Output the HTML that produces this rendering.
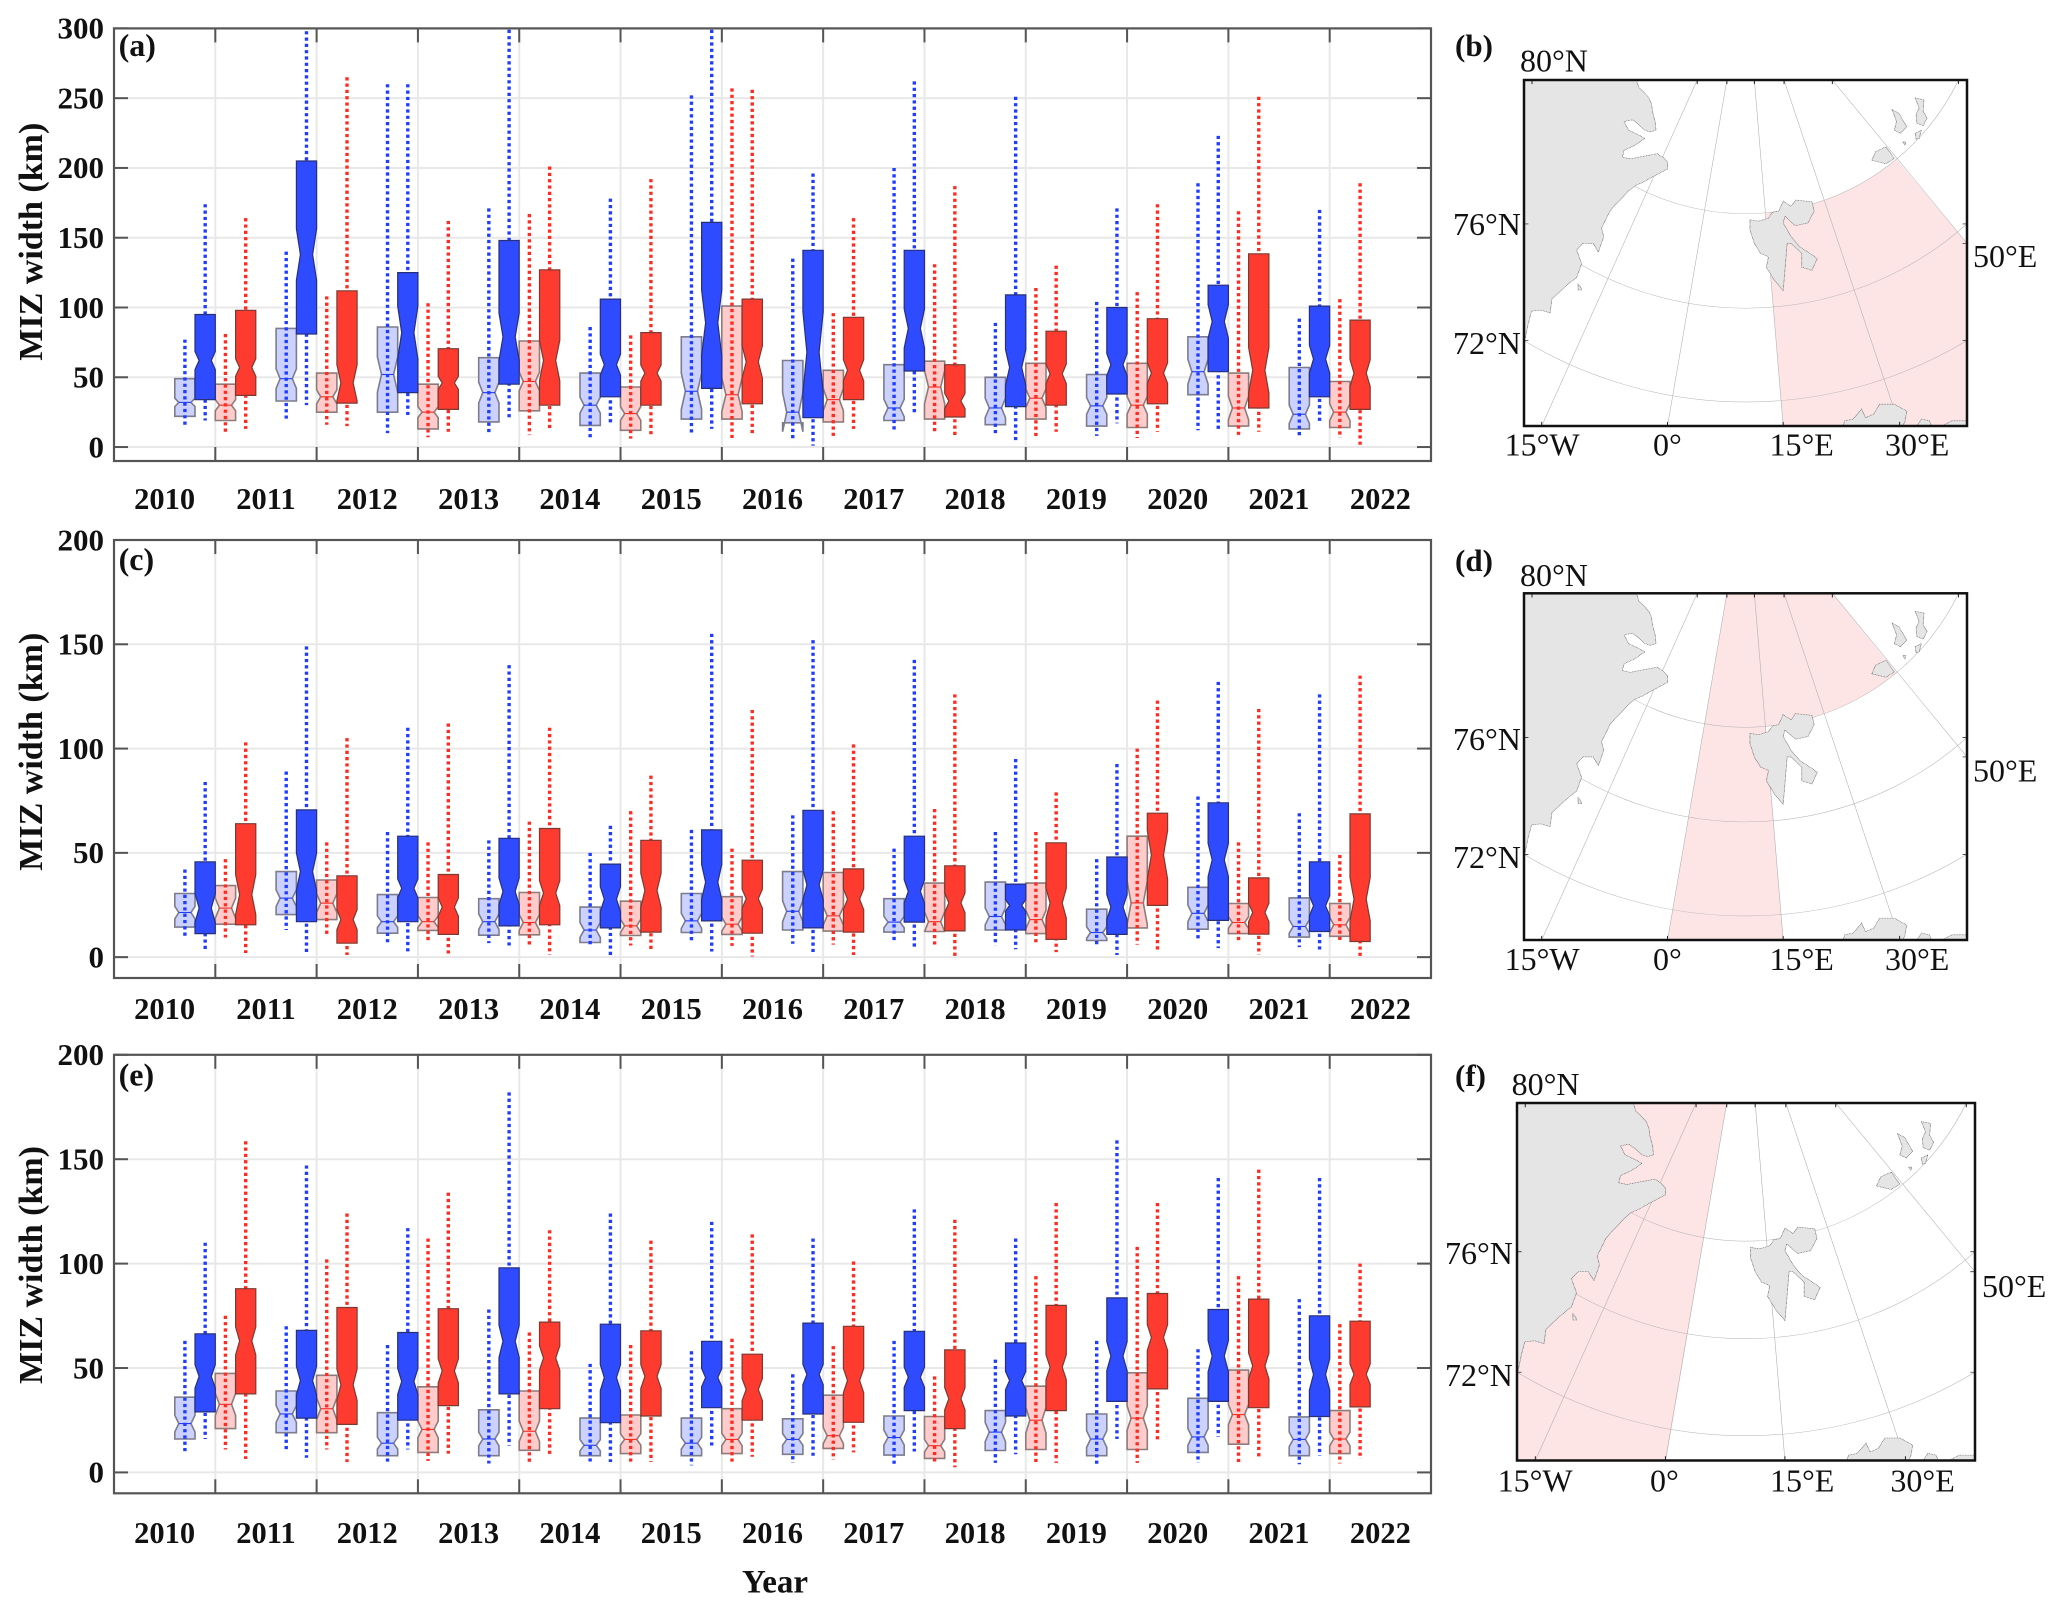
<!DOCTYPE html>
<html lang="en">
<head>
<meta charset="utf-8">
<title>MIZ width box plots and region maps</title>
<style>
html,body{margin:0;padding:0;background:#fff;}
svg{display:block;}
text{font-family:"Liberation Serif","Times New Roman",serif;fill:#111;}
.b{font-weight:bold;}
.maplab{font-size:32px;}
.m path{vector-effect:non-scaling-stroke;}
.grat{fill:none;stroke:#b0b0b0;stroke-width:1.3;}
.land{fill:#e5e5e5;stroke:#444;stroke-width:1.6;stroke-dasharray:1.8 1.8;}
.pink{fill:#fde4e5;stroke:none;}
.mtick{fill:none;stroke:#111;stroke-width:2;}
</style>
</head>
<body>
<svg id="fig" xmlns="http://www.w3.org/2000/svg" width="2067" height="1611" viewBox="0 0 2067 1611">
<rect x="0" y="0" width="2067" height="1611" fill="#fff"/>
<defs>
<g id="map-base">
<path class="grat" d="M18 0A535 685 0 0 0 981 0"/>
<path class="grat" d="M0 416A752 962 0 0 0 1000 416"/>
<path class="grat" d="M0 753A970 1242 0 0 0 1000 753"/>
<path class="grat" d="M40 1000L391 0"/>
<path class="grat" d="M324 1000L458 0"/>
<path class="grat" d="M585 1000L520 0"/>
<path class="grat" d="M848 1000L587 0"/>
<path class="grat" d="M696 0L1000 472"/>
<path class="land" d="M0 0L254 0L259 22L270 35L282 52L288 70L290 91L296 120L298 145L285 150L273 145L258 128L245 115L226 120L232 135L236 145L259 159L273 169L250 189L226 203L222 223L240 228L259 223L280 218L301 213L315 225L324 238L324 257L305 270L287 282L268 296L250 306L235 322L222 340L205 362L194 379L184 405L175 428L180 453L168 497L156 472L133 472L119 492L130 531L119 570L91 599L63 633L59 673L38 665L17 668L9 707L3 746L0 750Z"/>
<path class="land" d="M122 590L128 598L130 607L122 607Z"/>
<path class="land" d="M510 404L530 408L552 399L561 382L575 379L585 350L603 365L613 347L650 352L655 379L641 413L613 421L589 394L585 413L603 453L622 482L645 501L662 516L650 550L627 541L627 501L603 472L594 472L589 550L585 609L566 580L547 541L552 511L534 501L520 472L510 433Z"/>
<path class="land" d="M785 232L794 207L817 193L836 227L817 242Z"/>
<path class="land" d="M831 86L846 96L864 135L850 154L836 145L841 120Z"/>
<path class="land" d="M883 52L903 57L901 91L910 110L901 132L887 125L885 100L892 81Z"/>
<path class="land" d="M883 154L897 145L892 169L885 171Z"/>
<path class="land" d="M855 179L862 179L860 189Z"/>
<path class="land" d="M720 1000L724 985L743 980L762 951L771 976L789 966L803 937L836 937L864 957L860 986L855 1000Z"/>
<path class="land" d="M887 1000L897 980L915 985L920 1000Z"/>
<path class="land" d="M943 1000L966 985L999 985L1000 1000Z"/>
<path class="mtick" d="M18 0V12M391 0V12M458 0V12M520 0V12M587 0V12M696 0V12M981 0V12M40 1000V988M324 1000V988M585 1000V988M848 1000V988M0 416H10M0 753H10M1000 416H990M1000 753H990M1000 472H990"/>
</g>
</defs>

<!-- Map b -->
<svg class="m" x="1524" y="80" width="443" height="346" viewBox="0 0 1000 1000" preserveAspectRatio="none">
<path class="pink" d="M585 1000L546 384A535 685 0 0 0 841 230L1000 472L1000 1000Z"/>
<use href="#map-base"/>
</svg>
<rect x="1524" y="80" width="443" height="346" fill="none" stroke="#111" stroke-width="2.5"/>
<text class="b" x="1455" y="56" font-size="31">(b)</text>
<text class="maplab" x="1520" y="71.7">80°N</text>
<text class="maplab" x="1453" y="235">76°N</text>
<text class="maplab" x="1453" y="354">72°N</text>
<text class="maplab" x="1973" y="267">50°E</text>
<text class="maplab" x="1504.6" y="455.7">15°W</text>
<text class="maplab" x="1653" y="455.7">0°</text>
<text class="maplab" x="1769.5" y="455.7">15°E</text>
<text class="maplab" x="1885" y="455.7">30°E</text>

<!-- Map d -->
<svg class="m" x="1524" y="593.3" width="443" height="346.7" viewBox="0 0 1000 1000" preserveAspectRatio="none">
<path class="pink" d="M324 1000L458 0L696 0L841 230A535 685 0 0 1 546 384L585 1000Z"/>
<use href="#map-base"/>
</svg>
<rect x="1524" y="593.3" width="443" height="346.7" fill="none" stroke="#111" stroke-width="2.5"/>
<text class="b" x="1455" y="571" font-size="31">(d)</text>
<text class="maplab" x="1520" y="586">80°N</text>
<text class="maplab" x="1453" y="750">76°N</text>
<text class="maplab" x="1453" y="868">72°N</text>
<text class="maplab" x="1973" y="781.7">50°E</text>
<text class="maplab" x="1504.6" y="970">15°W</text>
<text class="maplab" x="1653" y="970">0°</text>
<text class="maplab" x="1769.5" y="970">15°E</text>
<text class="maplab" x="1885" y="970">30°E</text>

<!-- Map f -->
<svg class="m" x="1517" y="1103" width="458" height="357.5" viewBox="0 0 1000 1000" preserveAspectRatio="none">
<path class="pink" d="M0 0L458 0L326 1000L0 1000Z"/>
<use href="#map-base"/>
</svg>
<rect x="1517" y="1103" width="458" height="357.5" fill="none" stroke="#111" stroke-width="2.5"/>
<text class="b" x="1455" y="1086" font-size="31">(f)</text>
<text class="maplab" x="1511.6" y="1094.8">80°N</text>
<text class="maplab" x="1445" y="1264">76°N</text>
<text class="maplab" x="1445" y="1386">72°N</text>
<text class="maplab" x="1982" y="1296.8">50°E</text>
<text class="maplab" x="1497.6" y="1491.3">15°W</text>
<text class="maplab" x="1650" y="1491.3">0°</text>
<text class="maplab" x="1770" y="1491.3">15°E</text>
<text class="maplab" x="1890.4" y="1491.3">30°E</text>

<text class="b" x="775" y="1592.4" font-size="33" text-anchor="middle">Year</text>
</svg>

<script>
const years = [2010,2011,2012,2013,2014,2015,2016,2017,2018,2019,2020,2021,2022];
const ticksA = [0,50,100,150,200,250,300];
const ticksC = [0,50,100,150,200];
const ticksE = [0,50,100,150,200];

/* Panel (a) */
const aLbHi  = [77,140,260,171,86,252,135,200,89,104,189,92];
const aLbLo  = [14,19,10,9,7,10,6,11,8,8,12,6.5];
const aLbQ3  = [49,85,86,64,53,79,62,59,50,52,79,57];
const aLbQ1  = [22,33,25,18,15.5,20,17.4,19,16,15,37.5,13];
const aLbMed = [32,49,52,39,30,40,25,28,28,29.5,54,23.5];
const aLbN   = [3,7,12.7,7.5,5.7,13,14,6.3,7,6,9,6.7];
const aBHi   = [174,298,260,299,178,299,196,262,251,171,223,170];
const aBLo   = [19,30,21,20,17,13,1,23,4,17,11,18];
const aBQ3   = [95,205,125,148,106,161,141,141,109,100,116,101];
const aBQ1   = [34,81,39,45,36,42,21,54.5,29,38,54,36];
const aBMed  = [62,138,82,79,59,89,68,85,57,59,90,63];
const aBN    = [6.5,18.5,19,17,7.5,23.6,29,14,13,8,12,10];
const aLrHi  = [81,108,103,167,80,257,96,131,114,111,169,106];
const aLrLo  = [10,16,7,8.5,6,6.5,8,9.4,6.5,6.5,6.5,6.5];
const aLrQ3  = [45,53,45,76,43,101,55,61.5,60,60,53,47];
const aLrQ1  = [19,25,13,26,12,20,18,20,20,14,15,14];
const aLrMed = [30,36,25,47,24,37.5,34,43,35,30,28,25];
const aLrN   = [4,5,4,6.7,5,12,8,12,6.7,6.3,8.5,6];
const aRHi   = [164,265,162,201,192,256,164,187,130,174,251,189];
const aRLo   = [13,15,11,13,8,10,13,6.5,11,11,11,1];
const aRQ3   = [98,112,70.5,127,82,106,93,59,83,92,138.5,91];
const aRQ1   = [37,31.5,27,30,30,31,34,21.5,30,31,28,27];
const aRMed  = [57,46,46,62,53,61,55,33,52.5,53,55,53];
const aRN    = [6.3,13,4.7,14.5,5.8,11.6,7.6,5.5,7,7.3,16.3,9.7];

/* Panel (c) */
const cLbHi  = [42,89,60,56,50,61,68,52,60,47,77,69];
const cLbLo  = [9.4,13,6,6.7,5,7,6.4,7.5,5.6,5,8,4.8];
const cLbQ3  = [30.5,41,30,28,24,30.5,41,28,36,23,33.5,28.4];
const cLbQ1  = [14.4,20.4,11.5,10.5,7,11.8,13,12,13,8,13.4,9.6];
const cLbMed = [21.4,28.3,17,17,13,17.4,22,16.8,19.5,11.8,21,14.7];
const cLbN   = [3,4,2.8,3.8,3.6,3.6,5,2.8,4,2.8,4,3.2];
const cBHi   = [84,149,110,140,63,155,152,142.5,95,92.6,132,126];
const cBLo   = [2.7,1,2,5.6,1,2.7,1.6,4.3,3.8,1,4.3,3];
const cBQ3   = [45.7,70.6,58,57,44.6,61,70.4,58,35,48,74,45.7];
const cBQ1   = [11.3,17,17,15,14,17.4,14,16.8,13,10.9,17.6,12.3];
const cBMed  = [23.5,41,33,31.5,27.8,36,34.7,31.5,24.8,24,46.6,24.6];
const cBN    = [7,9,4.5,6.5,6,8.5,7.2,5.6,2.8,6,8,4.8];
const cLrHi  = [47,55,55,65,70,52,70,71,60,100,55,49];
const cLrLo  = [9.4,11,7.5,6,5.6,5.4,6,6,6,6,8,7];
const cLrQ3  = [34.3,37,28.6,31,26.8,29,40.6,35.5,35.5,58,25.7,25.7];
const cLrQ1  = [15.8,18,12.8,10.7,10.4,10.9,12.5,12.3,11.3,14,11.3,10];
const cLrMed = [23.5,25.9,17,16.6,15,15.8,19.8,17,18,26,16.6,15.5];
const cLrN   = [4.8,4.5,2.8,3.8,3.2,3.4,4.4,4.8,4.4,10.4,2.8,3.6];
const cRHi   = [103,105,112,110,87,118.5,102,126,79,123,119,135];
const cRLo   = [2,1,1,1,3,0.3,1,0.6,2.4,2.7,1,0.6];
const cRQ3   = [64,39,39.6,61.7,56,46.5,42.3,43.8,54.8,69,38,68.7];
const cRQ1   = [15.5,6.7,10.9,15.5,12,11.5,12,12.6,8.5,24.8,11,7.5];
const cRMed  = [30,18,24,30.7,32,28,27.8,26,25.9,49,21.4,27.8];
const cRN    = [9.6,4.8,4.4,6,8.2,4.6,5,4.8,7.2,11.6,4.4,10.4];

/* Panel (e) */
const eLbHi  = [63,70,61,78,52,58,47,63,54,63,59,83];
const eLbLo  = [8.7,10.8,4,4.3,4.3,3.4,4.6,3.7,4.6,3.9,4.6,3.9];
const eLbQ3  = [36,39,28.6,30,26,26,25.7,27,29.6,28,35.5,26.6];
const eLbQ1  = [16,19,8,8,8,8,8.7,8.3,10.5,8,9.6,8];
const eLbMed = [23.4,28,14,16,13,14,15.8,16.7,19.3,16,17,15.8];
const eLbN   = [4,4,2.8,3.3,2.7,2.8,2.8,3.5,4.6,4,4,3.5];
const eBHi   = [110,147,117,182,124,120,112,126,112,159,141,141];
const eBLo   = [16,7,11,12.8,5,12,8,10,8.7,16,17,8];
const eBQ3   = [66.4,68,67,98,71,62.8,71.5,67.6,62,83.6,78,75];
const eBQ1   = [29,26,25,37.6,23.8,31,28,29.6,27,34,34,26.8];
const eBMed  = [46,44,43.6,62.8,45.4,45.4,46.9,45.6,44,55.7,55.7,46.9];
const eBN    = [5.6,6.8,6.2,7.7,6.2,4.4,4.9,4.9,4.4,7,7.5,7.5];
const eLrHi  = [75,102,112,67,61,64,60.5,46,94,108,94,71];
const eLrLo  = [11,11,5.5,4.6,4.3,4.3,6,3.9,5,4.6,4.8,4.3];
const eLrQ3  = [47.4,46.5,41,39,27.5,30.5,37,26.8,41.3,47.7,49,29.6];
const eLrQ1  = [21,19,9.6,10.6,9,9,11.5,6.7,11,11,13.5,9];
const eLrMed = [32.6,30.5,20.6,19.7,15.8,15.8,17.6,12.8,25,26,27.7,16];
const eLrN   = [5.3,5.3,4,4.9,2.7,3,3.9,3,6.2,5.8,4.9,3.3];
const eRHi   = [158.6,124,134,116,111,114,101,121,129,129,145,100];
const eRLo   = [6.4,5,9,7.5,5,7.5,9.6,2.5,4.6,15.8,6.4,6.4];
const eRQ3   = [88,79,78.4,72,67.8,56.6,70,58.7,80,85.7,83,72.4];
const eRQ1   = [37.6,23,32,30.5,27,25,24,21,29.6,40,31,31.4];
const eRMed  = [63,42,48.6,54.8,46,39.7,44,35.3,50.4,64.6,51,47];
const eRN    = [6.7,7.5,5.8,5.8,5.7,5.3,5.8,5.3,6,6.2,6.2,4.9];

const NS = 'http://www.w3.org/2000/svg';
const fig = document.getElementById('fig');
const plotLeft = 114, plotRight = 1431, xMin = 0, xMax = 13;
function xScale(v){ return plotLeft + (v - xMin) / (xMax - xMin) * (plotRight - plotLeft); }
function makeY(top, bottom, yMin, yMax){
  return function(v){ return bottom - (v - yMin) / (yMax - yMin) * (bottom - top); };
}
function mk(tag, attrs, parent){
  const el = document.createElementNS(NS, tag);
  for (const k in attrs) el.setAttribute(k, attrs[k]);
  (parent || fig).appendChild(el);
  return el;
}
function drawBox(g, kind, k, hi, lo, q3, q1, med, n, yS, phase){
  const styles = {
    lb:{off:-0.3, fill:'#ccd2ff', edge:'#7c7c8c', wh:'#1f3cff', light:true},
    b: {off:-0.1, fill:'#2f4bff', edge:'#26307a', wh:'#1f3cff', light:false},
    lr:{off: 0.1, fill:'#ffcccb', edge:'#8c7c7c', wh:'#ff2a20', light:true},
    r: {off: 0.3, fill:'#ff3b30', edge:'#7a3a30', wh:'#ff2a20', light:false}
  };
  const s = styles[kind];
  const cx = xScale(k + s.off);
  const halfW = (xScale(0.1) - xScale(0));
  const ind = halfW * 0.4;
  if (phase === 'whisker'){
    const wh = mk('line', {x1:cx, x2:cx, y1:yS(hi), y2:yS(lo), stroke:s.wh, 'stroke-width':3.4, 'stroke-dasharray':'3.2 3.1'}, g);
    
    
    return;
  }
  const pts = [
    [cx-halfW, yS(q3)], [cx+halfW, yS(q3)], [cx+halfW, yS(med+n)], [cx+halfW-ind, yS(med)],
    [cx+halfW, yS(med-n)], [cx+halfW, yS(q1)], [cx-halfW, yS(q1)], [cx-halfW, yS(med-n)],
    [cx-halfW+ind, yS(med)], [cx-halfW, yS(med+n)]
  ].map(function(p){ return p[0].toFixed(1) + ',' + p[1].toFixed(1); }).join(' ');
  const box = mk('polygon', {points:pts, fill:s.fill, stroke:s.edge, 'stroke-width':s.light ? 1.6 : 1.2}, g);
  
  
  if (s.light){
    const m = mk('line', {x1:cx-halfW+ind, x2:cx+halfW-ind, y1:yS(med), y2:yS(med), stroke:s.wh, 'stroke-width':1.1}, g);
    
    
  }
}
function drawPanel(cfg){
  const yS = makeY(cfg.top, cfg.bottom, cfg.yMin, cfg.yMax);
  const g = mk('g', {});
  
  
  for (let k = 1; k <= 12; k++){
    const gv = mk('line', {x1:xScale(k), x2:xScale(k), y1:cfg.top, y2:cfg.bottom, stroke:'#e8e8e8', 'stroke-width':2}, g);
    
    
  }
  cfg.ticks.forEach(function(t){
    if (t === cfg.yMax) return;
    const gh = mk('line', {x1:plotLeft, x2:plotRight, y1:yS(t), y2:yS(t), stroke:'#e8e8e8', 'stroke-width':2}, g);
    
    
  });
  for (let i = 0; i < 12; i++){
    const k = i + 1;
    drawBox(g,'lb',k,cfg.lb[0][i],cfg.lb[1][i],cfg.lb[2][i],cfg.lb[3][i],cfg.lb[4][i],cfg.lb[5][i],yS,'box');
    drawBox(g,'lr',k,cfg.lr[0][i],cfg.lr[1][i],cfg.lr[2][i],cfg.lr[3][i],cfg.lr[4][i],cfg.lr[5][i],yS,'box');
  }
  for (let i = 0; i < 12; i++){
    const k = i + 1;
    drawBox(g,'lb',k,cfg.lb[0][i],cfg.lb[1][i],0,0,0,0,yS,'whisker');
    drawBox(g,'b',k,cfg.b[0][i],cfg.b[1][i],0,0,0,0,yS,'whisker');
    drawBox(g,'lr',k,cfg.lr[0][i],cfg.lr[1][i],0,0,0,0,yS,'whisker');
    drawBox(g,'r',k,cfg.r[0][i],cfg.r[1][i],0,0,0,0,yS,'whisker');
  }
  for (let i = 0; i < 12; i++){
    const k = i + 1;
    drawBox(g,'b',k,cfg.b[0][i],cfg.b[1][i],cfg.b[2][i],cfg.b[3][i],cfg.b[4][i],cfg.b[5][i],yS,'box');
    drawBox(g,'r',k,cfg.r[0][i],cfg.r[1][i],cfg.r[2][i],cfg.r[3][i],cfg.r[4][i],cfg.r[5][i],yS,'box');
  }
  const fr = mk('rect', {x:plotLeft, y:cfg.top, width:plotRight-plotLeft, height:cfg.bottom-cfg.top, fill:'none', stroke:'#555', 'stroke-width':2.2}, g);
  
  
  for (let k = 1; k <= 12; k++){
    const t1 = mk('line', {x1:xScale(k), x2:xScale(k), y1:cfg.top, y2:cfg.top+14, stroke:'#555', 'stroke-width':2}, g);
    
    
    const t2 = mk('line', {x1:xScale(k), x2:xScale(k), y1:cfg.bottom, y2:cfg.bottom-14, stroke:'#555', 'stroke-width':2}, g);
    
    
  }
  cfg.ticks.forEach(function(t){
    const l = mk('line', {x1:plotLeft, x2:plotLeft+14, y1:yS(t), y2:yS(t), stroke:'#555', 'stroke-width':2}, g);
    
    
    const r = mk('line', {x1:plotRight, x2:plotRight-14, y1:yS(t), y2:yS(t), stroke:'#555', 'stroke-width':2}, g);
    
    
    const tx = mk('text', {x:104, y:yS(t)+10.3, 'font-size':31, 'text-anchor':'end', 'class':'b'}, g);
    
    
    tx.textContent = t;
  });
  years.forEach(function(yr, i){
    const tx = mk('text', {x:xScale(i + 0.5), y:cfg.labelY, 'font-size':30.5, 'text-anchor':'middle', 'class':'b'}, g);
    
    
    tx.textContent = yr;
  });
  const yt = mk('text', {transform:'translate(42,' + cfg.titleY + ') rotate(-90)', 'font-size':34, 'text-anchor':'middle', 'class':'b'}, g);
  
  
  yt.textContent = 'MIZ width (km)';
  const pl = mk('text', {x:118.6, y:cfg.letterY, 'font-size':32, 'class':'b'}, g);
  
  
  pl.textContent = '(' + cfg.id + ')';
}
drawPanel({id:'a', top:28.4, bottom:461, yMin:-10, yMax:300, ticks:ticksA, labelY:508.8, titleY:241.7, letterY:55.8,
  lb:[aLbHi,aLbLo,aLbQ3,aLbQ1,aLbMed,aLbN], b:[aBHi,aBLo,aBQ3,aBQ1,aBMed,aBN],
  lr:[aLrHi,aLrLo,aLrQ3,aLrQ1,aLrMed,aLrN], r:[aRHi,aRLo,aRQ3,aRQ1,aRMed,aRN]});
drawPanel({id:'c', top:540, bottom:978, yMin:-10, yMax:200, ticks:ticksC, labelY:1019, titleY:751.7, letterY:570,
  lb:[cLbHi,cLbLo,cLbQ3,cLbQ1,cLbMed,cLbN], b:[cBHi,cBLo,cBQ3,cBQ1,cBMed,cBN],
  lr:[cLrHi,cLrLo,cLrQ3,cLrQ1,cLrMed,cLrN], r:[cRHi,cRLo,cRQ3,cRQ1,cRMed,cRN]});
drawPanel({id:'e', top:1054.8, bottom:1493.3, yMin:-10, yMax:200, ticks:ticksE, labelY:1543, titleY:1265, letterY:1085.6,
  lb:[eLbHi,eLbLo,eLbQ3,eLbQ1,eLbMed,eLbN], b:[eBHi,eBLo,eBQ3,eBQ1,eBMed,eBN],
  lr:[eLrHi,eLrLo,eLrQ3,eLrQ1,eLrMed,eLrN], r:[eRHi,eRLo,eRQ3,eRQ1,eRMed,eRN]});
</script>
</body>
</html>
